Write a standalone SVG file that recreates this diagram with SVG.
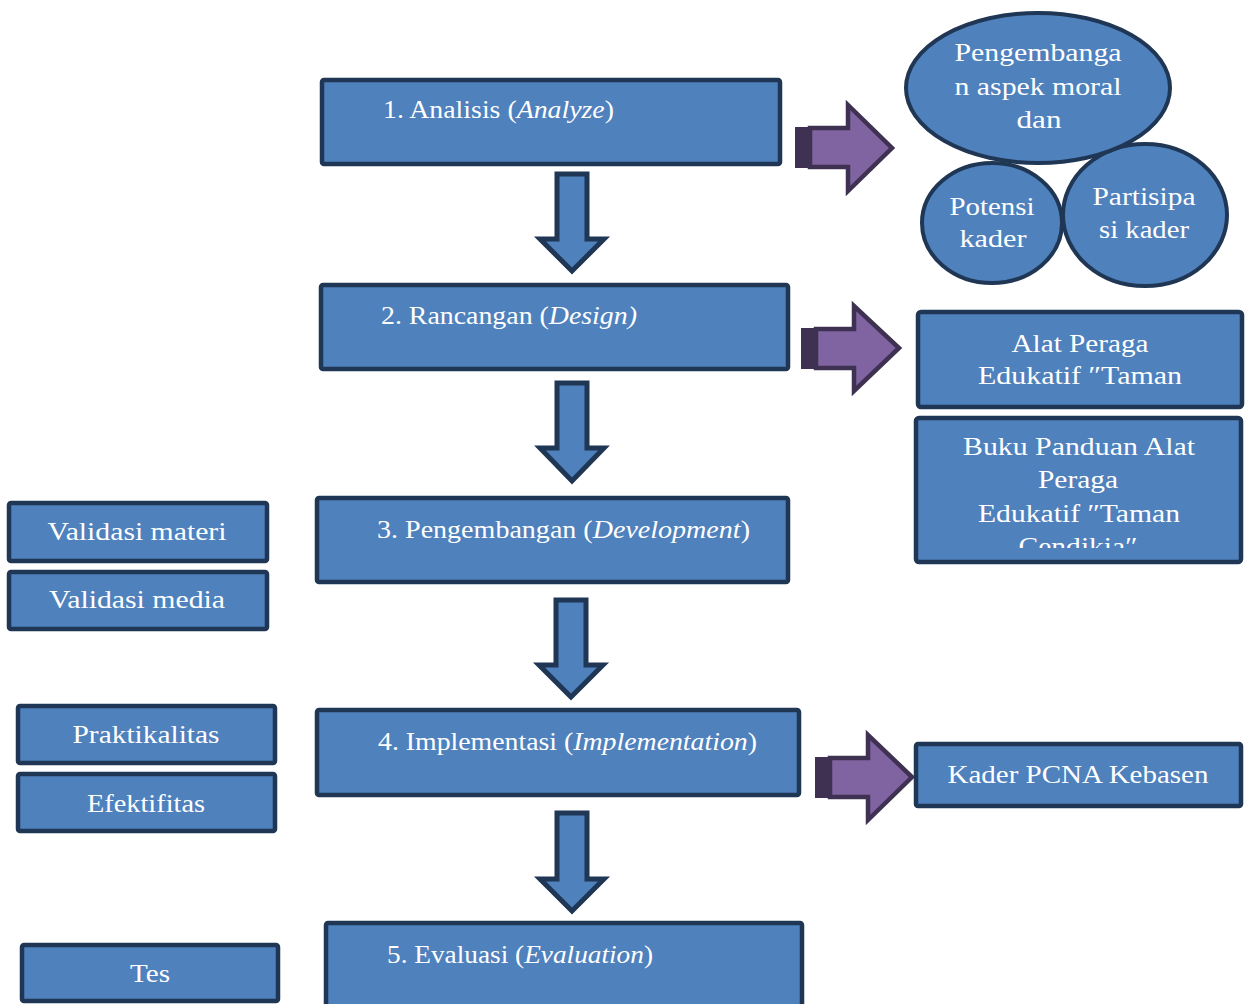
<svg xmlns="http://www.w3.org/2000/svg" width="1251" height="1004" viewBox="0 0 1251 1004">
<defs>
<style>
.box{fill:#4f81bd;stroke:#1f3654;stroke-width:4.5}
.ell{fill:#4f81bd;stroke:#1f3654;stroke-width:4}
.dn{fill:#4f81bd;stroke:#1f3654;stroke-width:5;stroke-linejoin:miter}
.pa{fill:#8064a2;stroke:#3f3151;stroke-width:4.5;stroke-linejoin:miter}
.pb{fill:#3f3151}
text{font-family:"Liberation Serif","Times New Roman",serif;font-size:26px;fill:#ffffff}
.c{text-anchor:middle}
</style>
<clipPath id="clipB"><rect x="915" y="417" width="327" height="131"/></clipPath>
</defs>
<g id="connectors">
<polygon class="dn" points="557,174 587,174 587,239 604,239 572,271 540,239 557,239"/>
<polygon class="dn" points="557,383 587,383 587,448 604,448 572,481 540,448 557,448"/>
<polygon class="dn" points="556,600 586,600 586,665 603,665 571,697 539,665 556,665"/>
<polygon class="dn" points="557,813 587,813 587,879 604,879 572,911 540,879 557,879"/>
<rect class="pb" x="795" y="127" width="16" height="41"/>
<polygon class="pa" points="810,128 848,128 848,105 892,148 848,191 848,167 810,167"/>
<rect class="pb" x="801" y="328" width="16" height="41"/>
<polygon class="pa" points="816,329 854,329 854,306 899,348 854,391 854,368 816,368"/>
<rect class="pb" x="815" y="757" width="16" height="41"/>
<polygon class="pa" points="830,758 868,758 868,735 912,777 868,820 868,797 830,797"/>
</g>
<g id="n1"><rect class="box" x="322" y="80" width="458" height="84" rx="2"/><text x="383" y="118" textLength="231" lengthAdjust="spacingAndGlyphs">1. Analisis (<tspan font-style="italic">Analyze</tspan>)</text></g>
<g id="n2"><rect class="box" x="321" y="285" width="467" height="84" rx="2"/><text x="381" y="324" textLength="256" lengthAdjust="spacingAndGlyphs">2. Rancangan (<tspan font-style="italic">Design)</tspan></text></g>
<g id="n3"><rect class="box" x="317" y="498" width="471" height="84" rx="2"/><text x="377" y="538" textLength="373" lengthAdjust="spacingAndGlyphs">3. Pengembangan (<tspan font-style="italic">Development</tspan>)</text></g>
<g id="n4"><rect class="box" x="317" y="710" width="482" height="85" rx="2"/><text x="378" y="750" textLength="379" lengthAdjust="spacingAndGlyphs">4. Implementasi (<tspan font-style="italic">Implementation</tspan>)</text></g>
<g id="n5"><rect class="box" x="326" y="923" width="476" height="90" rx="2"/><text x="387" y="963" textLength="266" lengthAdjust="spacingAndGlyphs">5. Evaluasi (<tspan font-style="italic">Evaluation</tspan>)</text></g>
<g id="e2"><ellipse class="ell" cx="1145" cy="215" rx="82" ry="71"/><text class="c" x="1144" y="205" textLength="103" lengthAdjust="spacingAndGlyphs">Partisipa</text><text class="c" x="1144" y="238" textLength="90" lengthAdjust="spacingAndGlyphs">si kader</text></g>
<g id="e1"><ellipse class="ell" cx="1038" cy="88" rx="132" ry="75"/><text class="c" x="1038" y="61" textLength="167" lengthAdjust="spacingAndGlyphs">Pengembanga</text><text class="c" x="1038" y="95" textLength="167" lengthAdjust="spacingAndGlyphs">n aspek moral</text><text class="c" x="1039" y="128" textLength="45" lengthAdjust="spacingAndGlyphs">dan</text></g>
<g id="e3"><ellipse class="ell" cx="992" cy="223" rx="70" ry="60"/><text class="c" x="992" y="215" textLength="85" lengthAdjust="spacingAndGlyphs">Potensi</text><text class="c" x="993" y="247" textLength="67" lengthAdjust="spacingAndGlyphs">kader</text></g>
<g id="r1"><rect class="box" x="918" y="312" width="324" height="95" rx="3"/><text class="c" x="1080" y="352" textLength="137" lengthAdjust="spacingAndGlyphs">Alat Peraga</text><text class="c" x="1080" y="384" textLength="204" lengthAdjust="spacingAndGlyphs">Edukatif ″Taman</text></g>
<g id="r2"><rect class="box" x="916" y="418" width="325" height="144" rx="3"/><g clip-path="url(#clipB)"><text class="c" x="1079" y="455" textLength="232" lengthAdjust="spacingAndGlyphs">Buku Panduan Alat</text><text class="c" x="1078" y="488" textLength="80" lengthAdjust="spacingAndGlyphs">Peraga</text><text class="c" x="1079" y="522" textLength="202" lengthAdjust="spacingAndGlyphs">Edukatif ″Taman</text><text class="c" x="1078" y="555" textLength="119" lengthAdjust="spacingAndGlyphs">Cendikia″</text></g></g>
<g id="r3"><rect class="box" x="916" y="744" width="325" height="62" rx="2"/><text class="c" x="1078" y="783" textLength="261" lengthAdjust="spacingAndGlyphs">Kader PCNA Kebasen</text></g>
<g id="l1"><rect class="box" x="9" y="503" width="258" height="58" rx="2"/><text class="c" x="137" y="540" textLength="179" lengthAdjust="spacingAndGlyphs">Validasi materi</text></g>
<g id="l2"><rect class="box" x="9" y="572" width="258" height="57" rx="2"/><text class="c" x="137" y="608" textLength="176" lengthAdjust="spacingAndGlyphs">Validasi media</text></g>
<g id="l3"><rect class="box" x="18" y="706" width="257" height="57" rx="2"/><text class="c" x="146" y="743" textLength="147" lengthAdjust="spacingAndGlyphs">Praktikalitas</text></g>
<g id="l4"><rect class="box" x="18" y="774" width="257" height="57" rx="2"/><text class="c" x="146" y="812" textLength="118" lengthAdjust="spacingAndGlyphs">Efektifitas</text></g>
<g id="l5"><rect class="box" x="22" y="945" width="256" height="56" rx="2"/><text class="c" x="150" y="982" textLength="40" lengthAdjust="spacingAndGlyphs">Tes</text></g>
</svg>
